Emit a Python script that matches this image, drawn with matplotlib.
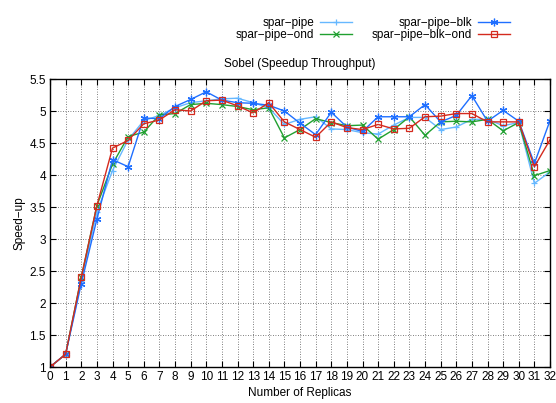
import matplotlib
matplotlib.use("Agg")
import matplotlib.pyplot as plt
from matplotlib.ticker import MultipleLocator, FuncFormatter

plt.rcParams['font.family'] = ['Liberation Sans', 'DejaVu Sans']

replicas = list(range(0, 33))

spar_pipe = [1.0, 1.2, 2.35, 3.42, 4.07, 4.55, 4.85, 4.93, 5.05, 5.13, 5.16, 5.19, 5.20, 5.13, 5.05,
             4.79, 4.87, 4.91, 4.72, 4.71, 4.66, 4.64, 4.78, 4.90, 4.90, 4.71, 4.75, 4.87, 4.87,
             4.77, 4.82, 3.87, 4.05]
spar_pipe_blk = [1.0, 1.2, 2.30, 3.31, 4.24, 4.13, 4.89, 4.88, 5.07, 5.18, 5.30, 5.17, 5.13, 5.12, 5.09,
                 5.00, 4.81, 4.63, 4.98, 4.75, 4.68, 4.91, 4.91, 4.91, 5.10, 4.83, 4.93, 5.24, 4.84,
                 5.01, 4.84, 4.18, 4.85]
spar_pipe_ond = [1.0, 1.2, 2.40, 3.52, 4.17, 4.60, 4.67, 4.94, 4.96, 5.10, 5.12, 5.10, 5.07, 5.02, 5.05,
                 4.58, 4.71, 4.88, 4.82, 4.77, 4.78, 4.56, 4.71, 4.91, 4.62, 4.83, 4.84, 4.83, 4.87,
                 4.69, 4.82, 3.99, 4.07]
spar_pipe_blk_ond = [1.0, 1.2, 2.40, 3.52, 4.42, 4.54, 4.80, 4.86, 5.02, 5.00, 5.16, 5.17, 5.08, 4.97, 5.13,
                     4.83, 4.71, 4.59, 4.83, 4.74, 4.71, 4.79, 4.72, 4.73, 4.91, 4.92, 4.96, 4.96, 4.83,
                     4.83, 4.83, 4.13, 4.55]

fig = plt.figure(figsize=(5.56, 4.03), dpi=100)
ax = fig.add_axes([50/556, 36/403, 500/556, 288/403])

l1, = ax.plot(replicas, spar_pipe, color='#66b8ff', marker='+', ms=5, mew=0.9, lw=1.0, label='spar−pipe')
l3, = ax.plot(replicas, spar_pipe_ond, color='#20a030', marker='x', ms=4, mew=0.9, lw=1.0, label='spar−pipe−ond')
l2, = ax.plot(replicas, spar_pipe_blk, color='#1f6fff', marker=(6, 2, 0), ms=5.5, mew=0.9, lw=1.0, label='spar−pipe−blk')
l4, = ax.plot(replicas, spar_pipe_blk_ond, color='#d42a1e', marker='s', ms=5, mfc='none', mew=0.9, lw=1.0, label='spar−pipe−blk−ond')

ax.set_xlim(0, 32)
ax.set_ylim(1, 5.5)
ax.xaxis.set_major_locator(MultipleLocator(1))
ax.yaxis.set_major_locator(MultipleLocator(0.5))
ax.yaxis.set_major_formatter(FuncFormatter(lambda v, p: '%g' % v))
ax.tick_params(direction='in', top=True, right=True, labelsize=8.5, length=4, width=0.8, pad=3)
ax.grid(True, linestyle=(0, (1, 2)), color='#555555', linewidth=0.6)
for s in ax.spines.values():
    s.set_linewidth(1.0)

ax.set_title('Sobel (Speedup Throughput)', fontsize=8.5, pad=9)
ax.set_xlabel('Number of Replicas', fontsize=8.5, labelpad=3)
ax.set_ylabel('Speed−up', fontsize=8.5, labelpad=3)

leg_kw = dict(loc='upper right', ncol=1, markerfirst=False, frameon=False, fontsize=8.5,
              handlelength=2.7, labelspacing=0.05, handletextpad=0.55, borderaxespad=0)
fig.legend(handles=[l1, l3], bbox_to_anchor=(357/556, 1 - 12/403), **leg_kw)
fig.legend(handles=[l2, l4], bbox_to_anchor=(515/556, 1 - 12/403), **leg_kw)

fig.savefig('out.png', dpi=100)
